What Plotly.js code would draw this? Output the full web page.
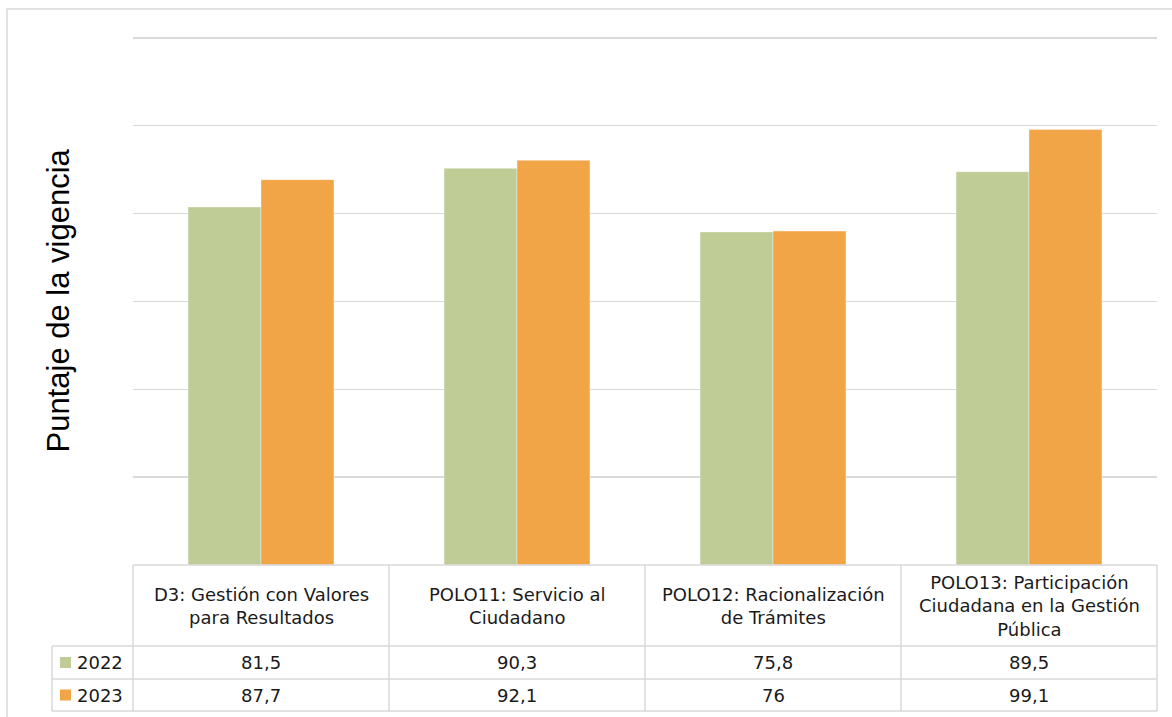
<!DOCTYPE html>
<html>
<head>
<meta charset="utf-8">
<script src="https://cdn.plot.ly/plotly-3.0.1.min.js"></script>
<style>html,body{margin:0;padding:0;background:#fff;}#chart{width:1172px;height:717px;}</style>
</head>
<body>
<div id="chart"></div>
<script>
// ---- data ----
const categories = [
  'D3: Gestión con Valores<br>para Resultados',
  'POLO11: Servicio al<br>Ciudadano',
  'POLO12: Racionalización<br>de Trámites',
  'POLO13: Participación<br>Ciudadana en la Gestión<br>Pública'
];
const seriesNames = ['2022', '2023'];
const values2022 = [81.5, 90.3, 75.8, 89.5];
const values2023 = [87.7, 92.1, 76, 99.1];
const yAxisTitle = 'Puntaje de la vigencia';

// ---- style ----
const colors = ['#c0cc96', '#f2a546'];
const gridColor = '#d9d9d9';
const W = 1172, H = 717;
const mL = 133, mR = 15, mT = 36, mB = 152;
const plotW = W - mL - mR, plotH = H - mT - mB;
const px2x = p => (p - mL) / plotW;          // pixel -> paper x
const py2y = p => (H - mB - p) / plotH;      // pixel -> paper y

const allSeries = [values2022, values2023];
const fmt = v => String(v).replace('.', ',');
const tableFont = {family: 'DejaVu Sans', size: 18, color: '#1a1a1a'};

const traces = allSeries.map((vals, i) => ({
  type: 'bar',
  name: seriesNames[i],
  x: categories,
  y: vals,
  marker: {color: colors[i], line: {color: 'rgba(255,255,255,0.35)', width: 1}},
  showlegend: false,
  hoverinfo: 'x+y'
}));

// table geometry (pixel rows)
const rowTop = [H - mB, 646, 679, 711]; // header top, 2022 top, 2023 top, bottom
const tableLeftKey = 52;

const shapes = [];
const lineStyle = {color: gridColor, width: 1.5};
// horizontal lines
shapes.push({type: 'line', xref: 'paper', yref: 'paper', x0: 0, x1: 1, y0: py2y(rowTop[0]), y1: py2y(rowTop[0]), line: lineStyle});
for (let r = 1; r < rowTop.length; r++) {
  shapes.push({type: 'line', xref: 'paper', yref: 'paper', x0: px2x(tableLeftKey), x1: 1, y0: py2y(rowTop[r]), y1: py2y(rowTop[r]), line: lineStyle});
}
// vertical lines
for (let j = 0; j <= categories.length; j++) {
  const xp = j / categories.length;
  shapes.push({type: 'line', xref: 'paper', yref: 'paper', x0: xp, x1: xp, y0: py2y(rowTop[0]), y1: py2y(rowTop[3]), line: lineStyle});
}
shapes.push({type: 'line', xref: 'paper', yref: 'paper', x0: px2x(tableLeftKey), x1: px2x(tableLeftKey), y0: py2y(rowTop[1]), y1: py2y(rowTop[3]), line: lineStyle});
// outer chart frame
shapes.push({type: 'rect', xref: 'paper', yref: 'paper', x0: px2x(7), x1: px2x(1200), y0: py2y(9), y1: py2y(760), line: lineStyle, fillcolor: 'rgba(0,0,0,0)', layer: 'below'});

const annotations = [];
// header cells
categories.forEach((c, j) => {
  annotations.push({x: c, xref: 'x', y: py2y((rowTop[0] + rowTop[1]) / 2), yref: 'paper',
    text: c, showarrow: false, font: tableFont, align: 'center', xanchor: 'center', yanchor: 'middle'});
});
// value rows + legend keys
allSeries.forEach((vals, i) => {
  const yc = (rowTop[i + 1] + rowTop[i + 2]) / 2;
  vals.forEach((v, j) => {
    annotations.push({x: categories[j], xref: 'x', y: py2y(yc), yref: 'paper',
      text: fmt(v), showarrow: false, font: tableFont, xanchor: 'center', yanchor: 'middle'});
  });
  shapes.push({type: 'rect', xref: 'paper', yref: 'paper', x0: px2x(60), x1: px2x(71), y0: py2y(yc - 5.5), y1: py2y(yc + 5.5),
    fillcolor: colors[i], line: {width: 0}});
  annotations.push({x: px2x(75), xref: 'paper', y: py2y(yc), yref: 'paper', text: seriesNames[i],
    showarrow: false, font: tableFont, xanchor: 'left', yanchor: 'middle'});
});
// y axis title
annotations.push({x: px2x(58), xref: 'paper', y: py2y(300.5), yref: 'paper', text: yAxisTitle, textangle: -90,
  showarrow: false, font: {family: 'Liberation Sans, Arial, sans-serif', size: 31, color: '#000'}, xanchor: 'center', yanchor: 'middle'});

const layout = {
  width: W, height: H,
  margin: {l: mL, r: mR, t: mT, b: mB},
  paper_bgcolor: '#fff', plot_bgcolor: '#fff',
  barmode: 'group', bargap: 0.43, bargroupgap: 0,
  xaxis: {type: 'category', range: [-0.5, 3.5], showticklabels: false, showgrid: false, zeroline: false, showline: false, ticks: ''},
  yaxis: {range: [0, 120.4], dtick: 20, tick0: 0, showticklabels: false, showgrid: true, gridcolor: gridColor, gridwidth: 1.5, zeroline: false, showline: false, ticks: ''},
  shapes: shapes,
  annotations: annotations,
  showlegend: false
};

Plotly.newPlot('chart', traces, layout, {displayModeBar: false, staticPlot: true});
</script>
</body>
</html>
